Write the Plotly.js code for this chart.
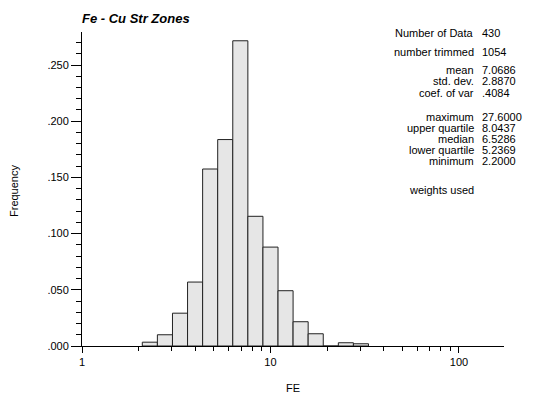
<!DOCTYPE html>
<html>
<head>
<meta charset="utf-8">
<script src="https://cdn.plot.ly/plotly-3.0.1.min.js"></script>
<style>
  html, body { margin: 0; padding: 0; background: #ffffff; }
  #chart { width: 542px; height: 394px; }
</style>
</head>
<body>
<div id="chart"></div>
<script>
// Histogram of FE in Cu structure zones, log-spaced classes (log10 units)
const binStartLog = 0.32;
const binWidthLog = 0.08;
const frequency = [0.0034, 0.0100, 0.0292, 0.0569, 0.1575, 0.1837, 0.2716,
                   0.1154, 0.0880, 0.0492, 0.0216, 0.0109, 0.0000, 0.0029, 0.0020];

// Axis labelling
const xMajorValues = [1, 10, 100];
const xMinorValues = [2, 3, 4, 5, 6, 7, 8, 9, 20, 30, 40, 50, 60, 70, 80, 90];
const yTickValues = [0, 0.05, 0.10, 0.15, 0.20, 0.25];
const yTickLabels = ['.000', '.050', '.100', '.150', '.200', '.250'];

// Summary statistics panel
const statLabels = ['Number of Data', 'number trimmed', 'mean', 'std. dev.', 'coef. of var',
                    'maximum', 'upper quartile', 'median', 'lower quartile', 'minimum', 'weights used'];
const statValues = ['430', '1054', '7.0686', '2.8870', '.4084',
                    '27.6000', '8.0437', '6.5286', '5.2369', '2.2000', ''];

const W = 542, H = 394;
const M = { l: 82, r: 38, t: 32, b: 48 };
const plotW = W - M.l - M.r, plotH = H - M.t - M.b;
const FONT = 'Liberation Sans, Arial, Helvetica, sans-serif';

const centers = frequency.map((_, i) => binStartLog + binWidthLog * (i + 0.5));

const trace = {
  type: 'bar',
  x: centers,
  y: frequency,
  width: frequency.map(() => binWidthLog),
  marker: { color: '#e6e6e6', line: { color: '#222222', width: 1 } },
  hoverinfo: 'skip'
};

// vertical pixel positions of the statistics rows
const statRowY = [33, 51.5, 69.5, 81, 92.5, 116.5, 127.5, 138.5, 149.5, 160.5, 190];
const toPaperX = px => (px - M.l) / plotW;
const toPaperY = py => (H - M.b - py) / plotH;

const annotations = [];
statLabels.forEach((lab, i) => {
  annotations.push({
    xref: 'paper', yref: 'paper', x: toPaperX(476), y: toPaperY(statRowY[i]),
    xanchor: 'right', yanchor: 'middle', text: lab, showarrow: false,
    font: { family: FONT, size: 11, color: '#000' }
  });
  if (statValues[i]) {
    annotations.push({
      xref: 'paper', yref: 'paper', x: toPaperX(480), y: toPaperY(statRowY[i]),
      xanchor: 'left', yanchor: 'middle', text: statValues[i], showarrow: false,
      font: { family: FONT, size: 11, color: '#000' }
    });
  }
});
annotations.push({
  xref: 'paper', yref: 'paper', x: toPaperX(14), y: toPaperY(191),
  xanchor: 'center', yanchor: 'middle', textangle: -90, text: 'Frequency',
  showarrow: false, font: { family: FONT, size: 11, color: '#000' }
});
annotations.push({
  xref: 'paper', yref: 'paper', x: 0.5, y: toPaperY(388),
  xanchor: 'center', yanchor: 'middle', text: 'FE',
  showarrow: false, font: { family: FONT, size: 11, color: '#000' }
});

const layout = {
  width: W, height: H,
  margin: M,
  paper_bgcolor: '#ffffff', plot_bgcolor: '#ffffff',
  showlegend: false,
  bargap: 0,
  title: {
    text: 'Fe - Cu Str Zones',
    x: 0, xref: 'paper', xanchor: 'left',
    y: 1 - 18.5 / H, yref: 'container', yanchor: 'middle',
    font: { family: FONT, size: 13, color: '#000', weight: 'bold', style: 'italic' }
  },
  xaxis: {
    range: [0, 2.239],
    tickmode: 'array',
    tickvals: xMajorValues.map(Math.log10),
    ticktext: xMajorValues.map(String),
    ticks: 'outside', ticklen: 6, tickwidth: 1, tickcolor: '#000',
    minor: {
      tickmode: 'array', tickvals: xMinorValues.map(Math.log10),
      ticks: 'outside', ticklen: 4, tickwidth: 1, tickcolor: '#000', showgrid: false
    },
    showline: true, linecolor: '#000', linewidth: 1,
    showgrid: false, zeroline: false, fixedrange: true,
    tickfont: { family: FONT, size: 11, color: '#000' }
  },
  yaxis: {
    range: [0, 0.2794],
    tickmode: 'array',
    tickvals: yTickValues,
    ticktext: yTickLabels,
    ticks: 'outside', ticklen: 10, tickwidth: 1, tickcolor: '#000',
    minor: {
      tickmode: 'linear', tick0: 0, dtick: 0.01,
      ticks: 'outside', ticklen: 5, tickwidth: 1, tickcolor: '#000', showgrid: false
    },
    showline: true, linecolor: '#000', linewidth: 1,
    showgrid: false, zeroline: false, fixedrange: true,
    tickfont: { family: FONT, size: 11, color: '#000' }
  },
  annotations: annotations
};

Plotly.newPlot('chart', [trace], layout, { staticPlot: true, displayModeBar: false });
</script>
</body>
</html>
